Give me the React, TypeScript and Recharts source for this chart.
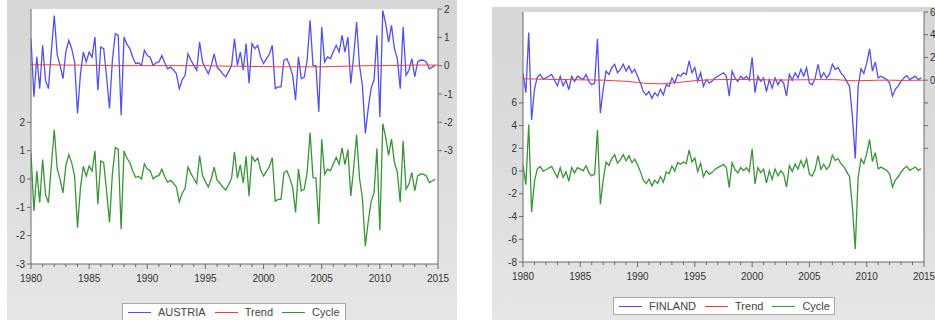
import React from "react";
import { LineChart, Line, XAxis, YAxis, CartesianGrid } from "recharts";

// quarterly values, 1980Q1 .. 2014Q4
const austriaSeries = [
    0.95, -1.1, 0.31, -0.81, 0.72, -0.52, -0.81, 0.5, 1.77, 0.4, 0.01, -0.46, 0.5, 0.89, 0.6, 0.13,
    -1.69, -0.3, 0.48, 0.13, 0.48, 0.3, 1.01, -0.87, 0.66, 0.6, -0.4, -1.51, 0.2, 1.13, 1.07, -1.75,
    1.01, 0.75, 0.6, 0.3, 0.07, 0.1, 0.01, 0.54, 0.36, 0.3, 0.01, 0.1, 0.13, 0.36, 0.1, -0.11,
    -0.05, -0.15, -0.28, -0.81, -0.5, -0.34, 0.42, 0.2, 0.01, -0.16, 0.83, 0.13, -0.1, -0.28, 0.01, 0.42,
    -0.05, -0.16, -0.3, -0.4, -0.2, 0.01, 0.95, 0.01, 0.48, -0.16, 0.78, -0.63, 0.78, 0.6, 0.72, 0.3,
    0.07, 0.25, 0.4, 0.72, -0.81, -0.75, -0.75, 0.19, 0.25, 0.0, -0.34, -1.22, 0.31, -0.46, -0.4, 0.2,
    1.6, 0.01, 0.0, -1.63, 1.36, 0.13, 0.31, 0.25, 0.5, 0.72, 0.48, 1.07, 0.48, 1.01, -0.63, 0.36,
    1.54, 0.01, -0.7, -2.39, -1.51, -0.8, -0.5, 1.07, -1.81, 1.95, 1.48, 0.83, 1.42, 0.6, 0.25, -0.81,
    1.36, -0.34, -0.16, 0.25, -0.4, 0.13, 0.2, 0.19, 0.13, -0.11, -0.05, 0.01,
];
const austriaCycle = [
    0.92, -1.13, 0.28, -0.84, 0.69, -0.55, -0.84, 0.47, 1.74, 0.37, -0.02, -0.49, 0.47, 0.86, 0.57, 0.1,
    -1.72, -0.33, 0.45, 0.1, 0.46, 0.28, 0.99, -0.89, 0.64, 0.58, -0.42, -1.53, 0.18, 1.11, 1.05, -1.77,
    0.99, 0.73, 0.58, 0.28, 0.06, 0.09, 0.0, 0.53, 0.35, 0.29, 0.0, 0.09, 0.12, 0.35, 0.09, -0.12,
    -0.05, -0.15, -0.28, -0.81, -0.5, -0.34, 0.42, 0.2, 0.01, -0.16, 0.83, 0.13, -0.1, -0.28, 0.01, 0.42,
    -0.04, -0.15, -0.29, -0.39, -0.19, 0.02, 0.96, 0.02, 0.5, -0.14, 0.8, -0.61, 0.8, 0.62, 0.74, 0.32,
    0.1, 0.28, 0.43, 0.75, -0.78, -0.72, -0.72, 0.22, 0.29, 0.04, -0.3, -1.18, 0.35, -0.42, -0.36, 0.24,
    1.64, 0.05, 0.04, -1.59, 1.4, 0.17, 0.35, 0.29, 0.54, 0.76, 0.52, 1.1, 0.51, 1.04, -0.6, 0.39,
    1.56, 0.03, -0.68, -2.37, -1.5, -0.79, -0.49, 1.08, -1.81, 1.95, 1.48, 0.83, 1.41, 0.59, 0.24, -0.82,
    1.34, -0.36, -0.18, 0.23, -0.42, 0.11, 0.18, 0.17, 0.11, -0.13, -0.07, -0.01,
];
// yearly trend, 1980 .. 2015
const austriaTrend = [
    0.03, 0.03, 0.03, 0.02, 0.02, 0.01, 0.01, 0.0, 0.0, 0.0, 0.0, 0.0, 0.0, 0.0, 0.0, 0.0,
    -0.01, -0.02, -0.02, -0.03, -0.03, -0.04, -0.04, -0.04, -0.04, -0.04, -0.03, -0.02, -0.01, 0.0,
    0.0, 0.01, 0.01, 0.02, 0.02, 0.02,
];

const finlandSeries = [
    0.6, -1.1, 4.2, -3.5, -0.8, 0.3, 0.5, 0.1, 0.2, 0.35, 0.5, 0.0, -0.5, 0.35, -0.5, 0.0,
    -0.84, 0.35, -0.1, 0.35, 0.2, 0.05, 0.5, -0.1, -0.4, -0.25, 3.64, -2.9, -0.8, 0.8, 0.5, 1.1,
    1.4, 0.65, 0.95, 1.4, 0.8, 1.25, 0.65, 0.95, 0.35, -0.25, -1.0, -1.3, -1.0, -1.6, -1.1, -1.4,
    -0.8, -1.3, -0.4, -0.55, 0.2, -0.25, 0.5, 0.35, 0.65, 0.5, 1.7, 0.65, 1.1, -0.1, 0.65, -0.55,
    0.05, -0.25, -0.1, 0.2, 0.35, 0.5, 0.65, 0.35, -1.4, 0.8, 0.2, -0.1, 0.35, 0.1, 0.35, 0.0,
    2.0, -1.1, 0.35, -0.1, 0.2, -1.0, 0.05, -0.7, 0.2, -0.4, 0.05, -0.25, -1.4, 0.5, 0.0, 0.65,
    0.2, 0.95, 0.35, 1.1, -0.25, -0.4, 0.2, 1.4, 0.2, 0.65, 0.2, 0.5, 1.4, 0.95, 1.1, 0.65,
    0.35, -0.1, -0.55, -3.2, -6.9, -0.6, 1.0, 0.6, 1.5, 2.75, 0.8, 1.6, 0.2, 0.35, 0.2, 0.05,
    -0.25, -1.4, -0.8, -0.5, -0.1, 0.2, 0.4, 0.05, 0.2, 0.35, 0.05, 0.2,
];
const finlandCycle = [
    0.5, -1.2, 4.1, -3.6, -0.9, 0.2, 0.4, 0.0, 0.12, 0.27, 0.42, -0.08, -0.56, 0.29, -0.56, -0.06,
    -0.89, 0.3, -0.15, 0.3, 0.17, 0.02, 0.47, -0.13, -0.42, -0.27, 3.62, -2.92, -0.8, 0.8, 0.5, 1.1,
    1.45, 0.7, 1.0, 1.45, 0.9, 1.35, 0.75, 1.05, 0.55, -0.05, -0.8, -1.1, -0.7, -1.3, -0.8, -1.1,
    -0.48, -0.98, -0.08, -0.23, 0.45, 0.0, 0.75, 0.6, 0.8, 0.65, 1.85, 0.8, 1.15, -0.05, 0.7, -0.5,
    0.03, -0.27, -0.13, 0.15, 0.3, 0.44, 0.59, 0.29, -1.46, 0.74, 0.14, -0.16, 0.3, 0.05, 0.3, -0.05,
    1.96, -1.14, 0.31, -0.14, 0.17, -1.03, 0.02, -0.73, 0.18, -0.42, 0.03, -0.27, -1.42, 0.48, -0.02, 0.63,
    0.17, 0.92, 0.32, 1.07, -0.29, -0.44, 0.16, 1.36, 0.15, 0.6, 0.15, 0.45, 1.4, 0.95, 1.1, 0.65,
    0.4, -0.05, -0.5, -3.15, -6.85, -0.55, 1.05, 0.65, 1.53, 2.78, 0.83, 1.63, 0.2, 0.35, 0.2, 0.05,
    -0.25, -1.4, -0.8, -0.5, -0.08, 0.22, 0.42, 0.07, 0.21, 0.36, 0.06, 0.21,
];
const finlandTrend = [
    0.12, 0.1, 0.08, 0.06, 0.05, 0.03, 0.02, 0.0, -0.05, -0.1, -0.2, -0.3, -0.32, -0.25, -0.15, -0.05,
    0.02, 0.05, 0.06, 0.06, 0.05, 0.03, 0.02, 0.02, 0.03, 0.04, 0.05, 0.05, 0.0, -0.05, -0.03, 0.0,
    0.0, -0.02, -0.01, 0.0,
];

const yearLabels = [1980, 1985, 1990, 1995, 2000, 2005, 2010, 2015];
const allYears = Array.from({ length: 36 }, (_, i) => 1980 + i);

const quarterly = (values: number[]) => values.map((v, i) => ({ t: 1980 + i / 4, v }));
const yearly = (values: number[]) => values.map((v, i) => ({ t: 1980 + i, v }));

const FONT = "'Liberation Sans', Arial, sans-serif";
const AXIS = "#6a6a6a";
const BLUE = "#5050f2";
const RED = "#f03c3c";
const GREEN = "#3a933a";

const YearTick = (props: any) => {
    const { x, y, payload } = props;
    const major = yearLabels.includes(payload.value);
    return (
        <g>
            <line x1={x} x2={x} y1={y} y2={y + (major ? 5 : 3)} stroke={AXIS} />
            {major && (
                <text x={x} y={y + 18} textAnchor="middle" fontSize={10} fill="#333" fontFamily={FONT}>
                    {payload.value}
                </text>
            )}
        </g>
    );
};

const LegendBox = ({ items, left, top, width }: { items: { label: string; color: string }[]; left: number; top: number; width: number }) => (
    <div
        style={{
            position: "absolute",
            left,
            top,
            width,
            display: "flex",
            alignItems: "center",
            background: "#fff",
            border: "1px solid #a8a8a8",
            height: 18,
            paddingLeft: 5,
            fontFamily: FONT,
            fontSize: 11,
            color: "#444",
            boxSizing: "border-box",
        }}
    >
        {items.map((it) => (
            <div key={it.label} style={{ display: "flex", alignItems: "center", marginRight: 9 }}>
                <div style={{ width: 23, height: 0, borderTop: `1px solid ${it.color}`, marginRight: 7 }} />
                <span>{it.label}</span>
            </div>
        ))}
    </div>
);

interface PanelProps {
    name: string;
    series: number[];
    trend: number[];
    cycle: number[];
    leftDomain: [number, number];
    leftTicks: number[];
    rightDomain: [number, number];
    rightTicks: number[];
    rightLabelMin: number;
    width: number;
    height: number;
    margin: { top: number; right: number; bottom: number; left: number };
    leftWidth: number;
    rightWidth: number;
}

const HPPanel: React.FC<PanelProps> = (p) => {
    const tickStyle = { fontSize: 10, fill: "#333", fontFamily: FONT };
    const rightTick = (props: any) => {
        const { x, y, payload } = props;
        if (payload.value < p.rightLabelMin) return <g />;
        return (
            <text x={x} y={y} dy="0.355em" textAnchor="start" fontSize={10} fill="#333" fontFamily={FONT}>
                {payload.value}
            </text>
        );
    };
    return (
        <LineChart width={p.width} height={p.height} margin={p.margin}>
            <CartesianGrid yAxisId="left" fill="#fff" horizontal={false} vertical={false} stroke="none" />
            <XAxis
                dataKey="t"
                type="number"
                domain={[1980, 2015]}
                ticks={allYears}
                interval={0}
                allowDataOverflow
                height={20}
                tickSize={0}
                tickMargin={0}
                tick={<YearTick />}
                axisLine={{ stroke: AXIS }}
            />
            <XAxis
                xAxisId="top"
                dataKey="t"
                type="number"
                domain={[1980, 2015]}
                orientation="top"
                height={0}
                tick={false}
                tickLine={false}
                axisLine={{ stroke: "#b8b8b8" }}
            />
            <YAxis
                yAxisId="left"
                type="number"
                domain={p.leftDomain}
                ticks={p.leftTicks}
                interval={0}
                allowDataOverflow
                width={p.leftWidth}
                tickSize={4}
                tickMargin={2}
                tick={tickStyle}
                axisLine={{ stroke: AXIS }}
                tickLine={{ stroke: AXIS }}
            />
            <YAxis
                yAxisId="right"
                orientation="right"
                type="number"
                domain={p.rightDomain}
                ticks={p.rightTicks}
                interval={0}
                allowDataOverflow
                width={p.rightWidth}
                tickSize={4}
                tickMargin={2}
                tick={rightTick}
                axisLine={{ stroke: AXIS }}
                tickLine={{ stroke: AXIS }}
            />
            <Line
                yAxisId="right"
                data={quarterly(p.series)}
                dataKey="v"
                name={p.name}
                stroke={BLUE}
                strokeWidth={1.3}
                dot={false}
                isAnimationActive={false}
            />
            <Line
                yAxisId="right"
                data={yearly(p.trend)}
                dataKey="v"
                name="Trend"
                stroke={RED}
                strokeWidth={1}
                dot={false}
                type="monotone"
                isAnimationActive={false}
            />
            <Line
                yAxisId="left"
                data={quarterly(p.cycle)}
                dataKey="v"
                name="Cycle"
                stroke={GREEN}
                strokeWidth={1.3}
                dot={false}
                isAnimationActive={false}
            />
        </LineChart>
    );
};

const panelBg = "linear-gradient(180deg, #d6d6d6 0%, #dedede 60%, #e6e6e6 100%)";

export default function App() {
    return (
        <div style={{ position: "fixed", left: 0, top: 0, width: 935, height: 320, background: "#fff", overflow: "hidden" }}>
            <div style={{ position: "absolute", left: 7, top: 0, width: 450, height: 320, background: panelBg }}>
                <HPPanel
                    name="AUSTRIA"
                    series={austriaSeries}
                    trend={austriaTrend}
                    cycle={austriaCycle}
                    leftDomain={[-3, 6]}
                    leftTicks={[-3, -2, -1, 0, 1, 2]}
                    rightDomain={[-7, 2]}
                    rightTicks={[-3, -2, -1, 0, 1, 2]}
                    rightLabelMin={-3}
                    width={450}
                    height={320}
                    margin={{ top: 9, right: 5, bottom: 36, left: 0 }}
                    leftWidth={24}
                    rightWidth={14}
                />
                <LegendBox
                    left={115}
                    top={303}
                    width={224}
                    items={[
                        { label: "AUSTRIA", color: BLUE },
                        { label: "Trend", color: RED },
                        { label: "Cycle", color: GREEN },
                    ]}
                />
            </div>
            <div style={{ position: "absolute", left: 492, top: 7, width: 443, height: 313, background: panelBg }}>
                <HPPanel
                    name="FINLAND"
                    series={finlandSeries}
                    trend={finlandTrend}
                    cycle={finlandCycle}
                    leftDomain={[-8, 14]}
                    leftTicks={[-8, -6, -4, -2, 0, 2, 4, 6]}
                    rightDomain={[-16, 6]}
                    rightTicks={[-6, -4, -2, 0, 2, 4, 6]}
                    rightLabelMin={0}
                    width={443}
                    height={313}
                    margin={{ top: 5, right: 0, bottom: 38, left: 0 }}
                    leftWidth={31}
                    rightWidth={11}
                />
                <LegendBox
                    left={121}
                    top={290}
                    width={222}
                    items={[
                        { label: "FINLAND", color: BLUE },
                        { label: "Trend", color: RED },
                        { label: "Cycle", color: GREEN },
                    ]}
                />
            </div>
        </div>
    );
}
